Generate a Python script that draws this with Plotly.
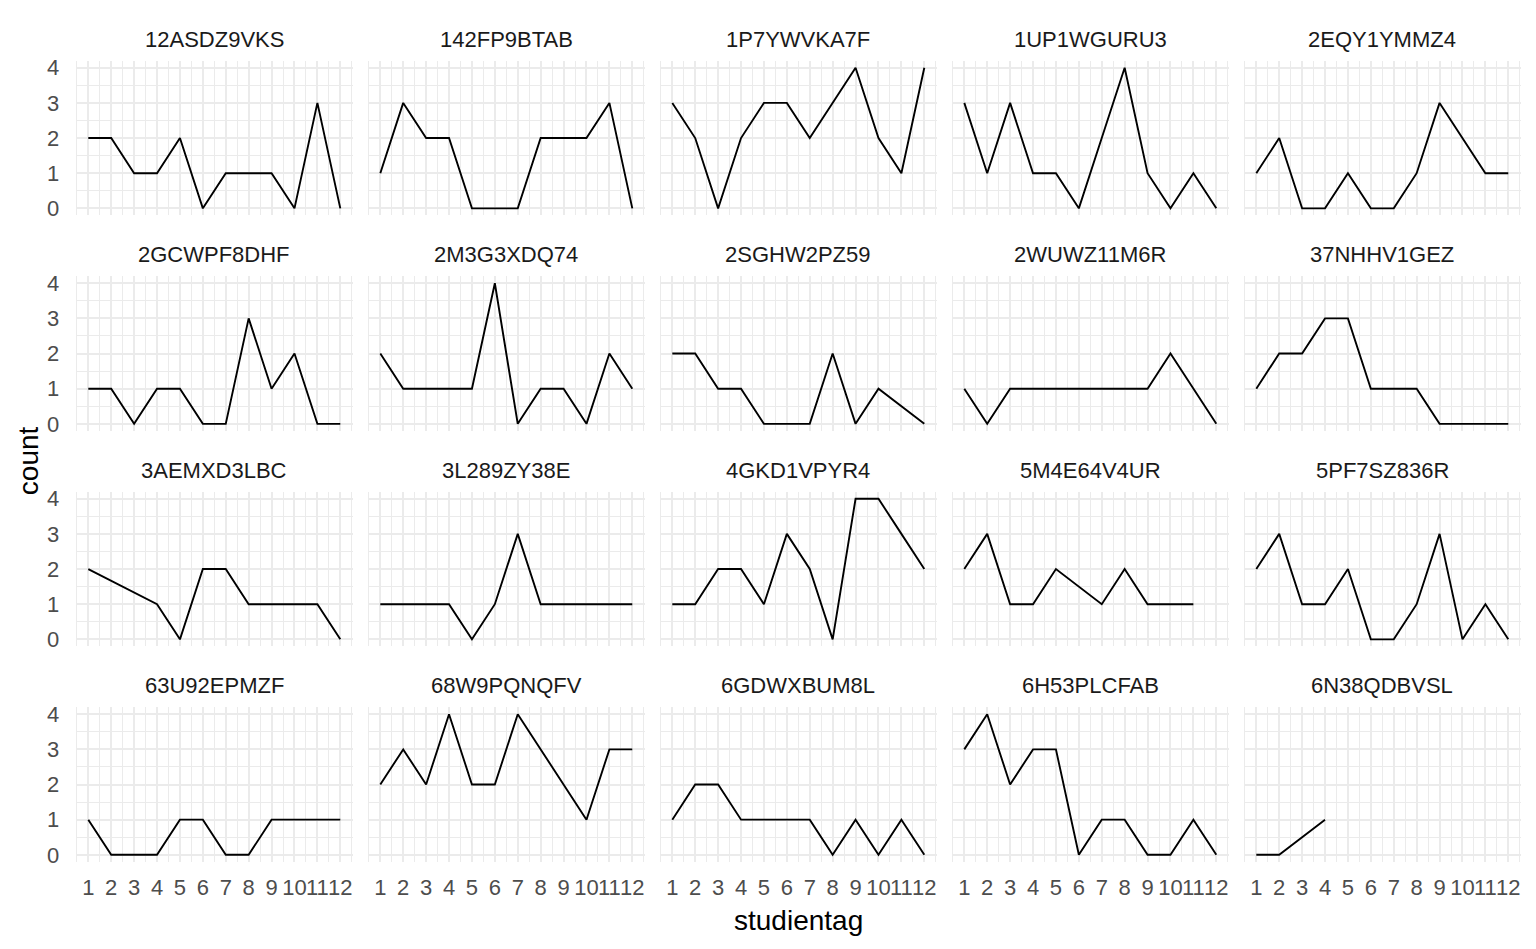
import plotly.graph_objects as go

# studientag (day of study) on x, count per participant on y
studientag = [1, 2, 3, 4, 5, 6, 7, 8, 9, 10, 11, 12]

participants = [
    "12ASDZ9VKS", "142FP9BTAB", "1P7YWVKA7F", "1UP1WGURU3", "2EQY1YMMZ4",
    "2GCWPF8DHF", "2M3G3XDQ74", "2SGHW2PZ59", "2WUWZ11M6R", "37NHHV1GEZ",
    "3AEMXD3LBC", "3L289ZY38E", "4GKD1VPYR4", "5M4E64V4UR", "5PF7SZ836R",
    "63U92EPMZF", "68W9PQNQFV", "6GDWXBUM8L", "6H53PLCFAB", "6N38QDBVSL",
]

# None = no row for that day (line just joins the neighbours)
c_12ASDZ9VKS = [2, 2, 1, 1, 2, 0, 1, 1, 1, 0, 3, 0]
c_142FP9BTAB = [1, 3, 2, 2, 0, 0, 0, 2, 2, 2, 3, 0]
c_1P7YWVKA7F = [3, 2, 0, 2, 3, 3, 2, 3, 4, 2, 1, 4]
c_1UP1WGURU3 = [3, 1, 3, 1, 1, 0, 2, 4, 1, 0, 1, 0]
c_2EQY1YMMZ4 = [1, 2, 0, 0, 1, 0, 0, 1, 3, 2, 1, 1]
c_2GCWPF8DHF = [1, 1, 0, 1, 1, 0, 0, 3, 1, 2, 0, 0]
c_2M3G3XDQ74 = [2, 1, 1, 1, 1, 4, 0, 1, 1, 0, 2, 1]
c_2SGHW2PZ59 = [2, 2, 1, 1, 0, 0, 0, 2, 0, 1, None, 0]
c_2WUWZ11M6R = [1, 0, 1, 1, 1, 1, 1, 1, 1, 2, 1, 0]
c_37NHHV1GEZ = [1, 2, 2, 3, 3, 1, 1, 1, 0, 0, 0, 0]
c_3AEMXD3LBC = [2, None, None, 1, 0, 2, 2, 1, 1, 1, 1, 0]
c_3L289ZY38E = [1, 1, 1, 1, 0, 1, 3, 1, 1, 1, 1, 1]
c_4GKD1VPYR4 = [1, 1, 2, 2, 1, 3, 2, 0, 4, 4, 3, 2]
c_5M4E64V4UR = [2, 3, 1, 1, 2, None, 1, 2, 1, 1, 1, None]
c_5PF7SZ836R = [2, 3, 1, 1, 2, 0, 0, 1, 3, 0, 1, 0]
c_63U92EPMZF = [1, 0, 0, 0, 1, 1, 0, 0, 1, 1, 1, 1]
c_68W9PQNQFV = [2, 3, 2, 4, 2, 2, 4, 3, 2, 1, 3, 3]
c_6GDWXBUM8L = [1, 2, 2, 1, 1, 1, 1, 0, 1, 0, 1, 0]
c_6H53PLCFAB = [3, 4, 2, 3, 3, 0, 1, 1, 0, 0, 1, 0]
c_6N38QDBVSL = [0, 0, None, 1, None, None, None, None, None, None, None, None]

series = [
    c_12ASDZ9VKS, c_142FP9BTAB, c_1P7YWVKA7F, c_1UP1WGURU3, c_2EQY1YMMZ4,
    c_2GCWPF8DHF, c_2M3G3XDQ74, c_2SGHW2PZ59, c_2WUWZ11M6R, c_37NHHV1GEZ,
    c_3AEMXD3LBC, c_3L289ZY38E, c_4GKD1VPYR4, c_5M4E64V4UR, c_5PF7SZ836R,
    c_63U92EPMZF, c_68W9PQNQFV, c_6GDWXBUM8L, c_6H53PLCFAB, c_6N38QDBVSL,
]

W, H = 1536, 949
NCOL, NROW = 5, 4
FONT = "Liberation Sans, Arial, sans-serif"
GRID = "#EBEBEB"

# panel geometry in pixels
left0, col_step, panel_w = 75.7, 292.0, 277.2
top0, row_step, panel_h = 60.7, 215.4, 154.6


def py(y):
    # screen-pixel y -> paper fraction; the capture squeezes the page a little
    # vertically (about 0.988 with a ~5px offset), so undo that here
    return 1 - ((y - 5.0) / 0.988) / H


fig = go.Figure()
annotations = []

for i, (pid, counts) in enumerate(zip(participants, series)):
    r, c = divmod(i, NCOL)
    n = i + 1
    xa = "x" if n == 1 else f"x{n}"
    ya = "y" if n == 1 else f"y{n}"

    fig.add_trace(go.Scatter(
        x=studientag, y=counts, mode="lines", connectgaps=True,
        line=dict(color="black", width=1.9),
        xaxis=xa, yaxis=ya, showlegend=False,
        hovertemplate=pid + "<br>studientag=%{x}<br>count=%{y}<extra></extra>",
    ))

    x0 = (left0 + c * col_step) / W
    x1 = (left0 + c * col_step + panel_w) / W
    ytop = top0 + r * row_step

    xkey = "xaxis" if n == 1 else f"xaxis{n}"
    ykey = "yaxis" if n == 1 else f"yaxis{n}"
    fig.layout[xkey] = dict(
        domain=[x0, x1], anchor=ya, range=[0.45, 12.55],
        tickmode="linear", tick0=1, dtick=1, tickangle=0,
        showticklabels=(r == NROW - 1),
        ticks="outside", ticklen=6, tickcolor="rgba(0,0,0,0)",
        tickfont=dict(family=FONT, size=22, color="#4D4D4D"),
        showgrid=True, gridcolor=GRID, gridwidth=2.4, zeroline=False,
        showline=False,
        minor=dict(tickmode="linear", tick0=0.5, dtick=1, showgrid=True,
                   gridcolor=GRID, gridwidth=1.2),
    )
    fig.layout[ykey] = dict(
        domain=[py(ytop + panel_h), py(ytop)], anchor=xa, range=[-0.2, 4.2],
        tickmode="linear", tick0=0, dtick=1,
        showticklabels=(c == 0),
        ticks="outside", ticklen=11, tickcolor="rgba(0,0,0,0)",
        tickfont=dict(family=FONT, size=22, color="#4D4D4D"),
        showgrid=True, gridcolor=GRID, gridwidth=2.4, zeroline=False,
        showline=False,
        minor=dict(tickmode="linear", tick0=0.5, dtick=1, showgrid=True,
                   gridcolor=GRID, gridwidth=1.2),
    )

    # facet strip label
    annotations.append(dict(
        text=pid, xref="paper", yref="paper",
        x=(x0 + x1) / 2, y=py(ytop - 21.5),
        xanchor="center", yanchor="middle", showarrow=False,
        font=dict(family=FONT, size=22, color="#1A1A1A"),
    ))

annotations.append(dict(
    text="studientag", xref="paper", yref="paper",
    x=(left0 + left0 + 4 * col_step + panel_w) / 2 / W, y=py(920),
    xanchor="center", yanchor="middle", showarrow=False,
    font=dict(family=FONT, size=28, color="black"),
))
annotations.append(dict(
    text="count", xref="paper", yref="paper",
    x=28 / W, y=py(461), textangle=-90,
    xanchor="center", yanchor="middle", showarrow=False,
    font=dict(family=FONT, size=28, color="black"),
))

fig.update_layout(
    width=W, height=H,
    margin=dict(l=0, r=0, t=0, b=0),
    paper_bgcolor="white", plot_bgcolor="white",
    annotations=annotations,
    showlegend=False,
)

# pin the page to exactly the figure size (no body margin, no overflow)
page_css = "margin:0;padding:0;overflow:hidden;width:1536px;height:949px;"
fig.write_html(
    "out.html",
    config={"displayModeBar": False},
    post_script=(
        f"document.documentElement.style.cssText='{page_css}';"
        f"document.body.style.cssText='{page_css}';"
    ),
)
